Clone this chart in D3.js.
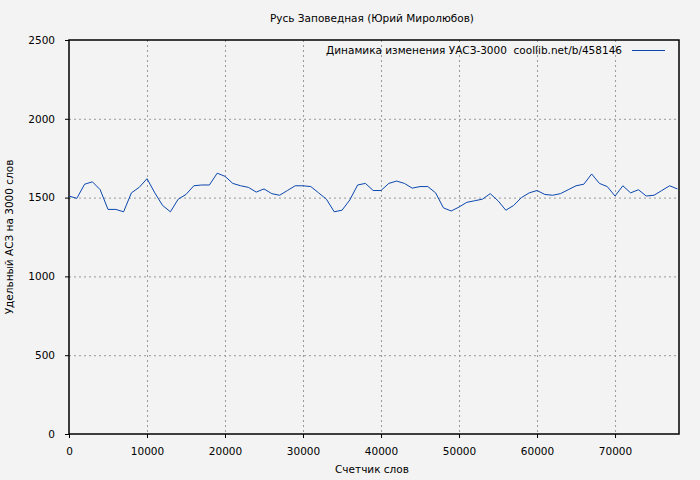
<!DOCTYPE html>
<html lang="ru">
<head>
<meta charset="UTF-8" />
<script src="https://d3js.org/d3.v7.min.js"></script>
<style>
  body { margin: 0; background: #f3f3f3; }
  text { font-family: "DejaVu Sans", sans-serif; font-size: 10.5px; fill: #000; white-space: pre; }
</style>
</head>
<body>
<svg width="700" height="480"></svg>
<script>
const words = d3.range(0, 79000, 1000);
const values = [1510, 1495, 1585, 1600, 1550, 1425, 1425, 1410, 1530, 1565,
  1620, 1530, 1450, 1410, 1490, 1520, 1575, 1580, 1580, 1655,
  1635, 1590, 1575, 1565, 1535, 1555, 1525, 1515, 1545, 1575,
  1575, 1570, 1530, 1490, 1410, 1420, 1485, 1580, 1590, 1545,
  1545, 1590, 1605, 1590, 1560, 1570, 1570, 1530, 1435, 1415,
  1440, 1470, 1480, 1490, 1525, 1480, 1420, 1450, 1500, 1530,
  1545, 1520, 1515, 1525, 1550, 1575, 1585, 1650, 1590, 1570,
  1510, 1575, 1530, 1550, 1510, 1515, 1545, 1575, 1555];
const xTicks = [0, 10000, 20000, 30000, 40000, 50000, 60000, 70000];
const yTicks = [0, 500, 1000, 1500, 2000, 2500];

const svg = d3.select("svg");
const pl = 69, pr = 679, pt = 40, pb = 434;
const x = d3.scaleLinear().domain([0, 78200]).range([pl, pr]);
const y = d3.scaleLinear().domain([0, 2500]).range([pb, pt]);

// сетка
svg.append("g").selectAll("line").data(xTicks.slice(1)).join("line")
  .attr("x1", d => x(d) + 0.5).attr("x2", d => x(d) + 0.5)
  .attr("y1", pt).attr("y2", pb)
  .attr("stroke", "#999").attr("stroke-dasharray", "2,3");
svg.append("g").selectAll("line").data(yTicks.slice(1, -1)).join("line")
  .attr("x1", pl).attr("x2", pr)
  .attr("y1", d => y(d) + 0.5).attr("y2", d => y(d) + 0.5)
  .attr("stroke", "#999").attr("stroke-dasharray", "2,3");

// оси
const xAxis = svg.append("g").attr("transform", `translate(0,${pb})`)
  .call(d3.axisBottom(x).tickValues(xTicks).tickSize(4).tickPadding(10).tickFormat(d3.format("d")));
const yAxis = svg.append("g").attr("transform", `translate(${pl},0)`)
  .call(d3.axisLeft(y).tickValues(yTicks).tickSize(4).tickPadding(10).tickFormat(d3.format("d")));
[xAxis, yAxis].forEach(a => {
  a.select(".domain").remove();
  a.selectAll("text").style("font-family", "DejaVu Sans").style("font-size", "10.5px");
});
svg.append("rect").attr("x", pl).attr("y", pt).attr("width", pr - pl).attr("height", pb - pt)
  .attr("fill", "none").attr("stroke", "#000").attr("stroke-width", 1.5);

// линия
svg.append("path").datum(words.map((w, i) => [w, values[i]]))
  .attr("fill", "none").attr("stroke", "#0a47b0").attr("stroke-width", 1)
  .attr("d", d3.line().x(d => x(d[0])).y(d => y(d[1])));

// подписи
svg.append("text").attr("x", 372).attr("y", 22).attr("text-anchor", "middle")
  .text("Русь Заповедная (Юрий Миролюбов)");
svg.append("text").attr("x", 372).attr("y", 473).attr("text-anchor", "middle")
  .text("Счетчик слов");
svg.append("text").attr("transform", "translate(13,237) rotate(-90)").attr("text-anchor", "middle")
  .text("Удельный АСЗ на 3000 слов");
svg.append("text").attr("x", 622).attr("y", 54).attr("text-anchor", "end")
  .text("Динамика изменения УАСЗ-3000  coollib.net/b/458146");
svg.append("line").attr("x1", 632).attr("x2", 665).attr("y1", 50.5).attr("y2", 50.5)
  .attr("stroke", "#0a47b0");
</script>
</body>
</html>
